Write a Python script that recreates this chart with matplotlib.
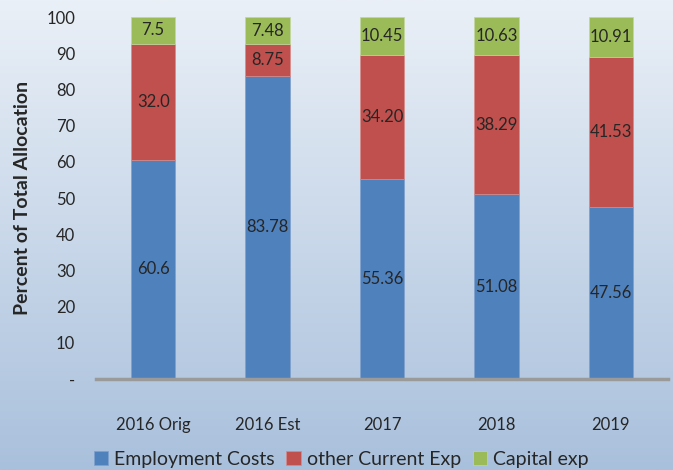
import numpy as np
import matplotlib.pyplot as plt
from matplotlib.colors import LinearSegmentedColormap

# Data
categories = ["2016 Orig", "2016 Est", "2017", "2018", "2019"]
employment = [60.6, 83.78, 55.36, 51.08, 47.56]
other_current = [32.0, 8.75, 34.20, 38.29, 41.53]
capital = [7.5, 7.48, 10.45, 10.63, 10.91]
employment_lbl = ["60.6", "83.78", "55.36", "51.08", "47.56"]
other_lbl = ["32.0", "8.75", "34.20", "38.29", "41.53"]
capital_lbl = ["7.5", "7.48", "10.45", "10.63", "10.91"]
yticks = [0, 10, 20, 30, 40, 50, 60, 70, 80, 90, 100]
ytick_labels = ["-", "10", "20", "30", "40", "50", "60", "70", "80", "90", "100"]

plt.rcParams['font.family'] = ['Lato', 'DejaVu Sans']

blue = "#4F81BD"
red = "#C0504D"
green = "#9BBB59"
text_col = "#262626"

fig = plt.figure(figsize=(6.73, 4.70), dpi=100)

# gradient background
bg = fig.add_axes([0, 0, 1, 1], zorder=-10)
cmap = LinearSegmentedColormap.from_list("bg", ["#EAF0F7", "#A9C0DC"])
grad = np.linspace(0, 1, 256).reshape(-1, 1)
bg.imshow(grad, aspect='auto', cmap=cmap, extent=[0, 1, 0, 1])
bg.axis('off')

ax = fig.add_axes([0.1426, 0.1936, 0.8500, 0.7702])
ax.patch.set_alpha(0)
x = np.arange(len(categories))
w = 0.39

emp = np.array(employment)
oth = np.array(other_current)
cap = np.array(capital)

b1 = ax.bar(x, emp, w, color=blue, edgecolor="#7FA0CC", linewidth=0.5, label="Employment Costs")
b2 = ax.bar(x, oth, w, bottom=emp, color=red, edgecolor="#D88A88", linewidth=0.5, label="other Current Exp")
b3 = ax.bar(x, cap, w, bottom=emp + oth, color=green, edgecolor="#C3D69E", linewidth=0.5, label="Capital exp")

for i in range(len(categories)):
    ax.text(x[i], emp[i] / 2, employment_lbl[i], ha='center', va='center', fontsize=12, color=text_col)
    ax.text(x[i], emp[i] + oth[i] / 2, other_lbl[i], ha='center', va='center', fontsize=12, color=text_col)
    ax.text(x[i], emp[i] + oth[i] + cap[i] / 2, capital_lbl[i], ha='center', va='center', fontsize=12, color=text_col)

ax.set_xlim(-0.5, len(categories) - 0.5)
ax.set_ylim(0, 100)
ax.set_yticks(yticks)
ax.set_yticklabels(ytick_labels)
ax.set_xticks(x)
ax.set_xticklabels(categories)
ax.tick_params(axis='both', length=0, labelsize=12, colors=text_col)
ax.tick_params(axis='y', pad=15)
ax.tick_params(axis='x', pad=27)

for s in ['top', 'right', 'left']:
    ax.spines[s].set_visible(False)
ax.spines['bottom'].set_color("#9A9A9A")
ax.spines['bottom'].set_linewidth(2.5)

ax.set_ylabel("Percent of Total Allocation", fontsize=14, fontweight='bold', color=text_col, labelpad=11)

fig.legend(handles=[b1, b2, b3], loc='lower center', bbox_to_anchor=(0.507, -0.032), ncol=3,
           frameon=False, fontsize=14, handlelength=0.75, handleheight=0.75, handletextpad=0.3,
           columnspacing=0.6, labelcolor=text_col)

fig.savefig("out.png", dpi=100)
